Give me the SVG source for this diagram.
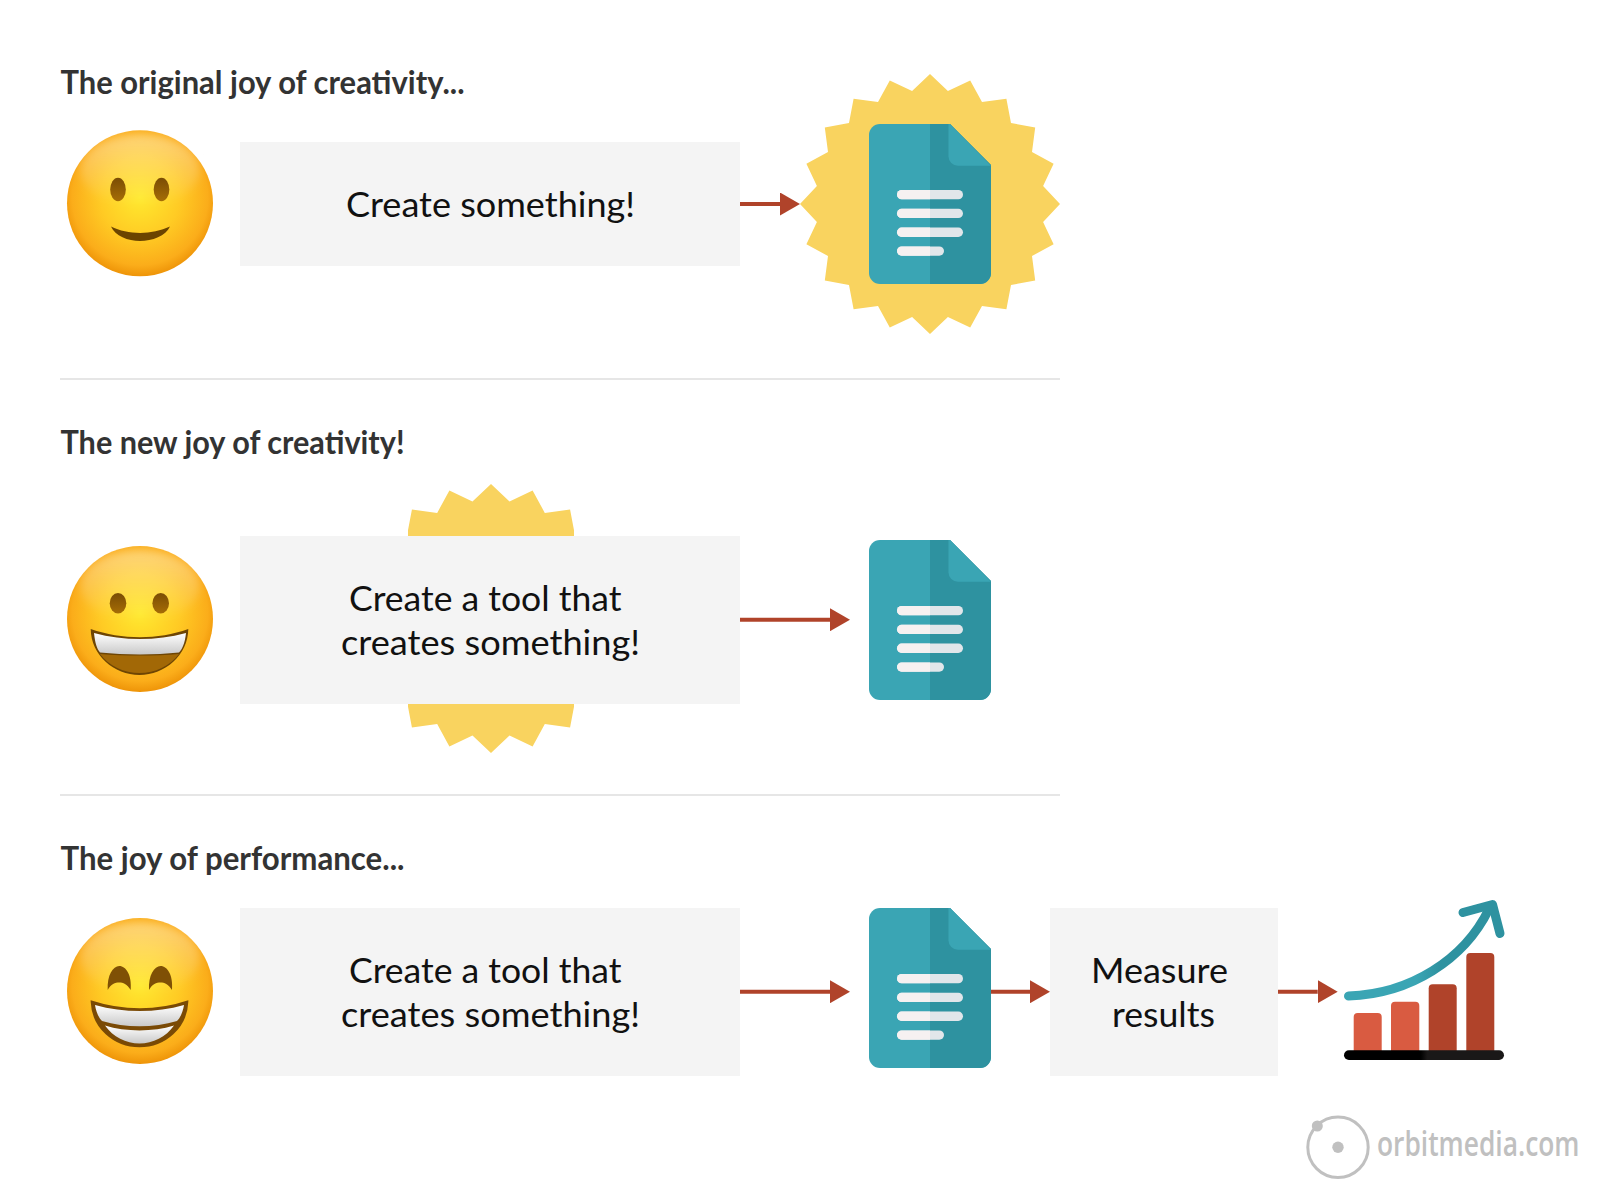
<svg xmlns="http://www.w3.org/2000/svg" width="1600" height="1200" viewBox="0 0 1600 1200">
<style>
.title{font-family:"Lato","Liberation Sans",sans-serif;font-weight:700;font-size:33px;fill:#333}
.body{font-family:"Lato","Liberation Sans",sans-serif;font-size:35.500px;fill:#111}
.box{fill:#f4f4f4}
.rule{stroke:#e6e6e6;stroke-width:2}
.conn{stroke:#b0432a;stroke-width:4;fill:none;marker-end:url(#ah)}
.star{fill:#f9d35f}
.eye{fill:url(#eyeG)}
.logo{font-family:"Open Sans","Liberation Sans",sans-serif;font-size:34px;fill:#c0c0c0;font-weight:600}
</style>
<defs>
<marker id="ah" markerUnits="userSpaceOnUse" markerWidth="20" markerHeight="23" refX="0" refY="11.500" orient="auto"><path d="M0 0L20 11.500L0 23Z" fill="#b0432a"/></marker>
<radialGradient id="face" cx=".5" cy=".46" r=".54"><stop offset="0" stop-color="#ffe92e"/><stop offset=".5" stop-color="#ffcb24"/><stop offset=".86" stop-color="#fbad1a"/><stop offset="1" stop-color="#ee9408"/></radialGradient>
<linearGradient id="shine" x1="0" y1="0" x2="0" y2="1"><stop offset="0" stop-color="#fff" stop-opacity=".4"/><stop offset="1" stop-color="#fff" stop-opacity="0"/></linearGradient>
<linearGradient id="eyeG" x1="0" y1="0" x2="0" y2="1"><stop offset="0" stop-color="#7a4c04"/><stop offset="1" stop-color="#a66d06"/></linearGradient>
<linearGradient id="teeth" x1="0" y1="0" x2="0" y2="1"><stop offset="0" stop-color="#fff"/><stop offset="1" stop-color="#c9c9c9"/></linearGradient>
<linearGradient id="base" x1="0" y1="0" x2="1" y2="0"><stop offset=".48" stop-color="#000"/><stop offset=".52" stop-color="#1a1818"/></linearGradient>
<linearGradient id="curve" gradientUnits="userSpaceOnUse" x1="1344" y1="0" x2="1504" y2="0"><stop offset=".45" stop-color="#3aa5b4"/><stop offset=".6" stop-color="#2e92a0"/></linearGradient>
<filter id="soft" x="-20%" y="-30%" width="140%" height="160%"><feGaussianBlur stdDeviation="4"/></filter>
<clipPath id="lh"><rect x="869" y="124" width="61" height="160"/></clipPath>
<clipPath id="starclip"><rect x="408" y="470" width="166" height="300"/></clipPath>
<g id="face0"><circle cx="140" cy="205" r="73" fill="url(#face)"/><ellipse cx="140" cy="172" rx="60" ry="36" fill="url(#shine)" filter="url(#soft)"/></g>
<polygon id="burst" points="0,-130 17.900,-113.100 40.200,-123.600 52,-102 76.400,-105.200 81,-81 105.200,-76.400 102,-52 123.600,-40.200 113.100,-17.900 130,0 113.100,17.900 123.600,40.200 102,52 105.200,76.400 81,81 76.400,105.200 52,102 40.200,123.600 17.900,113.100 0,130 -17.900,113.100 -40.200,123.600 -52,102 -76.400,105.200 -81,81 -105.200,76.400 -102,52 -123.600,40.200 -113.100,17.900 -130,0 -113.100,-17.900 -123.600,-40.200 -102,-52 -105.200,-76.400 -81,-81 -76.400,-105.200 -52,-102 -40.200,-123.600 -17.900,-113.100"/>
<g id="doc">
<path d="M880 124H950L991 165V273a11 11 0 0 1-11 11H880a11 11 0 0 1-11-11V135a11 11 0 0 1 11-11Z" fill="#3aa5b4"/>
<path d="M930 124H950L991 165V273a11 11 0 0 1-11 11H930Z" fill="#2e92a0"/>
<path d="M948.500 124H950L991 165.700H958a9.500 9.500 0 0 1-9.500-9.500Z" fill="#3aa5b4"/>
<g fill="#e1e6ea"><rect x="897" y="190" width="66" height="9.300" rx="4.650"/><rect x="897" y="208.800" width="66" height="9.300" rx="4.650"/><rect x="897" y="227.600" width="66" height="9.300" rx="4.650"/><rect x="897" y="246.400" width="47" height="9.300" rx="4.650"/></g>
<g fill="#f6f1f1" clip-path="url(#lh)"><rect x="897" y="190" width="66" height="9.300" rx="4.650"/><rect x="897" y="208.800" width="66" height="9.300" rx="4.650"/><rect x="897" y="227.600" width="66" height="9.300" rx="4.650"/><rect x="897" y="246.400" width="47" height="9.300" rx="4.650"/></g>
</g>
</defs>
<rect width="1600" height="1200" fill="#fff"/>
<line class="rule" x1="60" y1="379" x2="1060" y2="379"/>
<line class="rule" x1="60" y1="795" x2="1060" y2="795"/>

<text id="title1" class="title" x="60.500" y="94" textLength="404" lengthAdjust="spacingAndGlyphs">The original joy of creativity...</text>
<text id="title2" class="title" x="60.500" y="454" textLength="344" lengthAdjust="spacingAndGlyphs">The new joy of creativity!</text>
<text id="title3" class="title" x="60.500" y="870" textLength="344" lengthAdjust="spacingAndGlyphs">The joy of performance...</text>

<g id="emoji1">
<use href="#face0" y="-1.700"/>
<ellipse class="eye" cx="118" cy="189.500" rx="7.800" ry="11.800"/><ellipse class="eye" cx="161.500" cy="189.500" rx="7.800" ry="11.800"/>
<path d="M111 226.500C128 235 152 235 170 226.500C166 236 152 241 140 241C128 241 115 236 111 226.500Z" fill="#6b4400"/>
</g>
<g id="box1"><rect class="box" x="240" y="142" width="500" height="124"/><text class="body" x="346" y="217" textLength="289" lengthAdjust="spacingAndGlyphs">Create something!</text></g>
<g id="burst1"><use href="#burst" class="star" x="930" y="204"/></g>
<g id="doc1"><use href="#doc"/></g>

<g id="emoji2">
<use href="#face0" y="414"/>
<ellipse class="eye" cx="118" cy="603.300" rx="8.300" ry="10.300"/><ellipse class="eye" cx="160.700" cy="603.300" rx="8.300" ry="10.300"/>
<path d="M90.700 629C122 640 158 640 188.300 629C188 655 165 675 139.500 675C114 675 91 655 90.700 629Z" fill="#6e4503"/>
<path d="M94 633C124 641 156 641 186 633C185 643 182 650 179 652.500C155 655 125 655 100 652.500C97 649 95 643 94 633Z" fill="url(#teeth)"/>
<path d="M100 654C125 656 155 656 179 654C170 666 155 673 139.500 673C124 673 109 666 100 654Z" fill="#a26806"/>
</g>
<g id="burst2" clip-path="url(#starclip)"><use href="#burst" class="star" transform="translate(491 618.500) scale(1.035)"/></g>
<g id="box2"><rect class="box" x="240" y="536" width="500" height="168"/><text class="body" x="349" y="610.800" textLength="272.500" lengthAdjust="spacingAndGlyphs">Create a tool that</text><text class="body" x="341" y="655" textLength="299" lengthAdjust="spacingAndGlyphs">creates something!</text></g>
<g id="doc2"><use href="#doc" y="416"/></g>

<g id="emoji3">
<use href="#face0" y="786"/>
<path d="M107.700 990C107 975 113 966 119.300 966C126 966 132 975 130.700 990C127 984 123 982.500 119.300 982.500C115 982.500 111 984 107.700 990Z" fill="#7f5005"/>
<path d="M149 990C148.300 975 154.300 966 160.600 966C167.300 966 173.300 975 172 990C168.300 984 164.300 982.500 160.600 982.500C156.300 982.500 152.300 984 149 990Z" fill="#7f5005"/>
<path d="M92 1002C122 1012 158 1012 187 1002C186 1027 165 1046 139.500 1046C114 1046 93 1027 92 1002Z" fill="#7a4a05" stroke="#7a4a05" stroke-width="2.600"/>
<path d="M95 1005C124 1013 156 1013 184 1005C183 1011 181 1017 177 1021C154 1028 125 1028 102 1021C98 1017 96 1011 95 1005Z" fill="url(#teeth)"/>
<path d="M105 1025.500C126 1032 153 1032 174 1025.500C166 1037 153 1043.500 139.500 1043.500C126 1043.500 113 1037 105 1025.500Z" fill="url(#teeth)"/>
</g>
<g id="box3"><rect class="box" x="240" y="908" width="500" height="168"/><text class="body" x="349" y="983.200" textLength="272.500" lengthAdjust="spacingAndGlyphs">Create a tool that</text><text class="body" x="341" y="1027.400" textLength="299" lengthAdjust="spacingAndGlyphs">creates something!</text></g>
<g id="doc3"><use href="#doc" y="784"/></g>
<g id="box4"><rect class="box" x="1050" y="908" width="228" height="168"/><text class="body" x="1091" y="983.200" textLength="137" lengthAdjust="spacingAndGlyphs">Measure</text><text class="body" x="1112" y="1027.400" textLength="103" lengthAdjust="spacingAndGlyphs">results</text></g>

<g id="chart">
<g fill="#d95b41"><path d="M1353.700 1051V1017a4 4 0 0 1 4-4h20a4 4 0 0 1 4 4v34Z"/><path d="M1391 1051V1005.700a4 4 0 0 1 4-4h20.300a4 4 0 0 1 4 4V1051Z"/></g>
<g fill="#b0432a"><path d="M1428.700 1051V988.300a4 4 0 0 1 4-4h20a4 4 0 0 1 4 4V1051Z"/><path d="M1466.300 1051V957a4 4 0 0 1 4-4h20a4 4 0 0 1 4 4V1051Z"/></g>
<rect x="1344" y="1050.300" width="160" height="9.700" rx="4.850" fill="url(#base)"/>
<path d="M1348.500 996C1410 994 1464 960 1489 909" fill="none" stroke="url(#curve)" stroke-width="9" stroke-linecap="round"/>
<path d="M1463 912.500L1492.500 904.500L1500 933.500" fill="none" stroke="#2e92a0" stroke-width="9" stroke-linecap="round" stroke-linejoin="round"/>
</g>

<g id="connectors">
<line class="conn" x1="740" y1="204" x2="780" y2="204"/>
<line class="conn" x1="740" y1="619.700" x2="830" y2="619.700"/>
<line class="conn" x1="740" y1="991.700" x2="830" y2="991.700"/>
<line class="conn" x1="991" y1="991.700" x2="1030" y2="991.700"/>
<line class="conn" x1="1278" y1="991.700" x2="1317.700" y2="991.700"/>
</g>

<g id="logo">
<circle cx="1338" cy="1147.300" r="30.200" fill="none" stroke="#c0c0c0" stroke-width="3"/>
<circle cx="1338" cy="1147.300" r="5.700" fill="#c0c0c0"/>
<circle cx="1317.300" cy="1126" r="5.500" fill="#c0c0c0"/>
<text class="logo" transform="translate(1377 1156) scale(.75 1)" x="0" y="0" textLength="270" lengthAdjust="spacingAndGlyphs">orbitmedia.com</text>
</g>
</svg>
